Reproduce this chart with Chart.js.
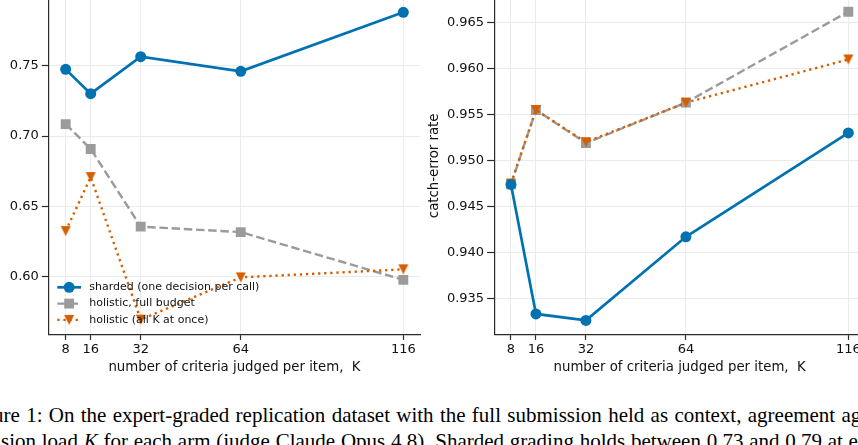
<!DOCTYPE html>
<html>
<head>
<meta charset="utf-8">
<script src="https://cdn.jsdelivr.net/npm/chart.js@4.4.1/dist/chart.umd.min.js"></script>
<style>
  html, body { margin: 0; padding: 0; background: #fff; }
  body { width: 858px; height: 445px; position: relative; overflow: hidden; }
  #agree { position: absolute; left: -40px; top: -20px; }
  #catch { position: absolute; left: 415px; top: -20px; }
  .cap {
    position: absolute; white-space: nowrap; color: #000;
    font-family: "Liberation Serif", "Times New Roman", serif;
    font-size: 21px; line-height: 26px;
  }
</style>
</head>
<body>
<canvas id="agree" width="480" height="400"></canvas>
<canvas id="catch" width="470" height="400"></canvas>
<div class="cap" style="left:-35px; top:402px; word-spacing:1.05px;">Figure 1: On the expert-graded replication dataset with the full submission held as context, agreement against</div>
<div class="cap" style="left:-34px; top:428px; word-spacing:0.5px;">decision load <i>K</i> for each arm (judge Claude Opus 4.8). Sharded grading holds between 0.73 and 0.79 at every</div>

<script>
// x axis: number of criteria per item
const kValues = [8, 16, 32, 64, 116];
const xTicks = [8, 16, 32, 64, 116];

// left panel: agreement
const agreeSharded = [0.7474, 0.7301, 0.7564, 0.7460, 0.7880];
const agreeHolisticFull = [0.7085, 0.6908, 0.6356, 0.6317, 0.5977];
const agreeHolisticAll = [0.6324, 0.6708, 0.5695, 0.5995, 0.6052];
const agreeTicks = [0.60, 0.65, 0.70, 0.75];

// right panel: catch-error rate
const catchSharded = [0.9474, 0.9333, 0.9326, 0.9417, 0.9530];
const catchHolisticFull = [0.9474, 0.9555, 0.9519, 0.9563, 0.9662];
const catchHolisticAll = [0.9475, 0.9555, 0.9520, 0.9563, 0.9610];
const catchTicks = [0.935, 0.940, 0.945, 0.950, 0.955, 0.960, 0.965];

const seriesNames = [
  "sharded (one decision per call)",
  "holistic, full budget",
  "holistic (all K at once)",
];

const BLUE = "#0072B2";
const GREY = "#9b9b9b";
const ORANGE = "#D55E00";
const GRID = "#ebebeb";
const SPINE = "#2b2b2b";
const TEXT = "#111";

Chart.defaults.font.family = "'DejaVu Sans', sans-serif";
Chart.defaults.color = TEXT;

// matplotlib style 'v' marker
function makeTriangle(size, color) {
  const c = document.createElement("canvas");
  c.width = size + 2;
  c.height = size + 2;
  const g = c.getContext("2d");
  g.fillStyle = color;
  g.beginPath();
  g.moveTo(1, 1);
  g.lineTo(size + 1, 1);
  g.lineTo(size / 2 + 1, size + 1);
  g.closePath();
  g.fill();
  return c;
}
const triangle = makeTriangle(10, ORANGE);

const pts = arr => kValues.map((k, i) => ({ x: k, y: arr[i] }));

function makeSets(sharded, full, all) {
  return [{
    label: seriesNames[0],
    data: pts(sharded),
    borderColor: BLUE,
    backgroundColor: BLUE,
    borderWidth: 2.7,
    pointStyle: "circle",
    pointRadius: 5.5,
    pointBorderWidth: 0,
    pointBackgroundColor: BLUE,
    order: 0,
  }, {
    label: seriesNames[1],
    data: pts(full),
    borderColor: GREY,
    backgroundColor: GREY,
    borderWidth: 2.4,
    borderDash: [8.5, 3.7],
    pointStyle: "rect",
    pointRadius: 7,
    pointBorderWidth: 0,
    pointBackgroundColor: GREY,
    order: 2,
  }, {
    label: seriesNames[2],
    data: pts(all),
    borderColor: ORANGE,
    backgroundColor: ORANGE,
    borderWidth: 2.4,
    borderDash: [2.3, 3.8],
    pointStyle: triangle,
    pointRadius: 6,
    pointBorderWidth: 0,
    pointBackgroundColor: ORANGE,
    order: 1,
  }];
}

// legend drawn inside the plot, no frame
const insideLegend = {
  id: "insideLegend",
  afterDatasetsDraw(chart, args, opts) {
    if (!opts.show) return;
    const ctx = chart.ctx;
    ctx.save();
    chart.data.datasets.forEach((ds, i) => {
      const y = opts.y + i * opts.step;
      ctx.strokeStyle = ds.borderColor;
      ctx.lineWidth = ds.borderWidth;
      ctx.setLineDash(ds.borderDash || []);
      ctx.beginPath();
      ctx.moveTo(opts.x, y);
      ctx.lineTo(opts.x + opts.len, y);
      ctx.stroke();
      ctx.setLineDash([]);
      const mx = opts.x + opts.len / 2;
      ctx.fillStyle = ds.pointBackgroundColor;
      if (ds.pointStyle === "circle") {
        ctx.beginPath();
        ctx.arc(mx, y, ds.pointRadius, 0, Math.PI * 2);
        ctx.fill();
      } else if (ds.pointStyle === "rect") {
        const h = ds.pointRadius * Math.SQRT1_2;
        ctx.fillRect(mx - h, y - h, 2 * h, 2 * h);
      } else {
        const img = ds.pointStyle;
        ctx.drawImage(img, mx - img.width / 2, y - img.height / 2);
      }
      ctx.fillStyle = TEXT;
      ctx.font = "11px 'DejaVu Sans'";
      ctx.textBaseline = "middle";
      ctx.fillText(ds.label, opts.textX, y);
    });
    ctx.restore();
  }
};

function makeChart(id, sets, yMin, yMax, yTicks, yDigits, yTitle, yWidth, padLeft, legendOn) {
  return new Chart(document.getElementById(id), {
    type: "line",
    data: { datasets: sets },
    plugins: [insideLegend],
    options: {
      responsive: false,
      animation: false,
      layout: { padding: { left: padLeft, right: 19.8, top: 16.8, bottom: 4.3 } },
      plugins: {
        legend: { display: false },
        tooltip: { enabled: false },
        insideLegend: { show: legendOn, x: 97.3, len: 23.7, y: 307.3, step: 16.3, textX: 129.3 },
      },
      scales: {
        x: {
          type: "linear",
          min: 2.6,
          max: 121.4,
          afterBuildTicks: s => { s.ticks = xTicks.map(v => ({ value: v })); },
          afterFit: s => { s.height = 40.8; },
          grid: { color: GRID, lineWidth: 1, tickLength: 5, tickColor: SPINE, tickWidth: 1.2 },
          border: { display: true, color: SPINE, width: 1.2 },
          ticks: { padding: 2, font: { size: 13 }, maxRotation: 0, autoSkip: false, callback: v => String(v) },
          title: {
            display: true,
            text: "number of criteria judged per item,  K",
            font: { size: 13.3 },
            padding: { top: 0, bottom: 0 },
          },
        },
        y: {
          min: yMin,
          max: yMax,
          afterBuildTicks: s => { s.ticks = yTicks.map(v => ({ value: v })); },
          afterFit: s => { s.width = yWidth; },
          grid: { color: GRID, lineWidth: 1, tickLength: 7, tickColor: SPINE, tickWidth: 1.2 },
          border: { display: true, color: SPINE, width: 1.2 },
          ticks: { padding: 3, font: { size: 13 }, callback: v => v.toFixed(yDigits) },
          title: {
            display: true,
            text: yTitle,
            font: { size: 13.3 },
            padding: { top: 0, bottom: 0 },
          },
        },
      },
    },
  });
}

makeChart("agree", makeSets(agreeSharded, agreeHolisticFull, agreeHolisticAll),
  0.5586, 0.7990, agreeTicks, 2, "Cohen's κ", 61.3, 27.5, true);

makeChart("catch", makeSets(catchSharded, catchHolisticFull, catchHolisticAll),
  0.93102, 0.96782, catchTicks, 3, "catch-error rate", 67.1, 12.0, false);
</script>
</body>
</html>
